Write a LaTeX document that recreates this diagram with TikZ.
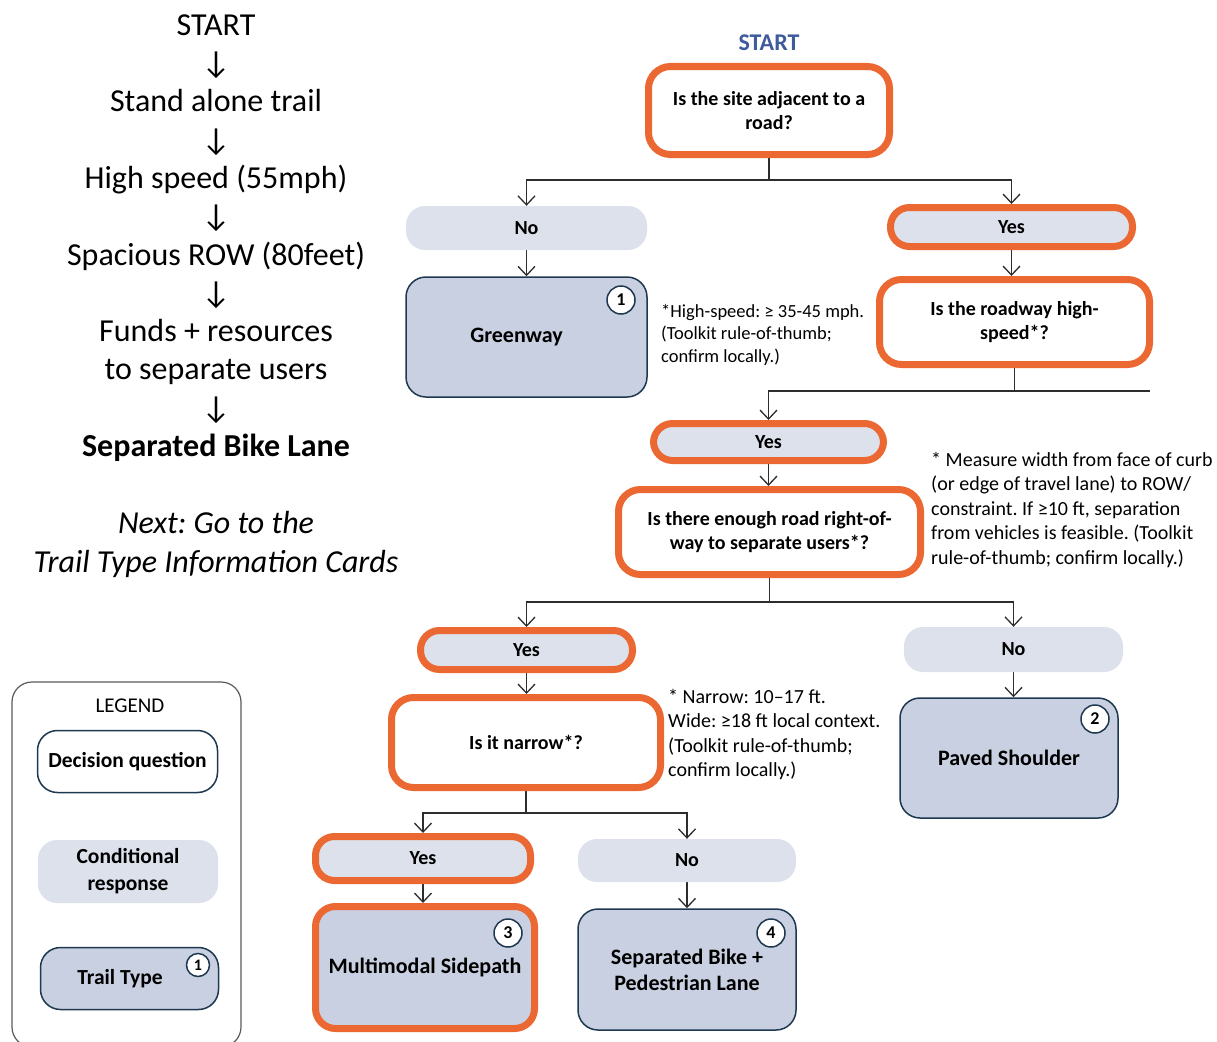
\documentclass[tikz,border=0pt]{standalone}
\usepackage{fontspec}
\setmainfont{Carlito}
\usetikzlibrary{arrows.meta,positioning,backgrounds}
\definecolor{flagorange}{RGB}{236,104,50}
\definecolor{responsecol}{RGB}{220,225,236}
\definecolor{trailcol}{RGB}{201,208,225}
\definecolor{edgecol}{RGB}{30,56,80}
\definecolor{startcol}{RGB}{62,91,155}
\definecolor{linkcol}{RGB}{45,45,45}
\newcommand{\fs}[2]{\fontsize{#1}{#2}\selectfont}
\newcommand{\dn}{{\fs{32}{32}↓}}
\frenchspacing

\begin{document}
\begin{tikzpicture}[x=1pt, y=-1pt,
    question/.style={draw=flagorange, line width=7pt, fill=white, rounded corners=22pt, align=center, font=\fs{20}{24}\bfseries, inner sep=0pt},
    answer/.style={fill=responsecol, rounded corners=19pt, align=center, font=\fs{20}{24}\bfseries, inner sep=0pt},
    picked/.style={answer, draw=flagorange, line width=7pt},
    trail/.style={draw=edgecol, line width=1.5pt, fill=trailcol, rounded corners=20pt, align=center, font=\fs{22}{26}\bfseries, inner sep=0pt},
    badge/.style={circle, draw=edgecol, line width=1.5pt, fill=white, minimum size=28pt, inner sep=0pt, font=\fs{18}{18}\bfseries},
    note/.style={anchor=west, align=left, inner sep=0pt},
    link/.style={draw=linkcol, line width=1.3pt},
    arr/.style={link, -{Straight Barb[length=9pt,width=17pt]}},
]
\useasboundingbox (0,0) rectangle (1217,1041);
\clip (0,0) rectangle (1217,1041);

\node[align=center, font=\fs{32}{38.3}] (chain) at (216,238)
  {START\\\dn\\Stand alone trail\\\dn\\High speed (55mph)\\\dn\\Spacious ROW (80feet)\\\dn\\Funds + resources\\to separate users\\\dn\\\textbf{Separated Bike Lane}};
\node[align=center, font=\fs{32}{39}\itshape] (nextcard) at (216,544) {Next: Go to the\\Trail Type Information Cards};

\node[font=\fs{24}{24}\bfseries, text=startcol] (start) at (769,43) {START};
\node[question, minimum width=241pt, minimum height=88pt] (site) at (769,110.5) {Is the site adjacent to a\\road?};
\node[answer, minimum width=241pt, minimum height=44pt] (siteno) at (526.5,228) {No};
\node[picked, minimum width=242pt, minimum height=39pt] (siteyes) at (1011.5,227) {Yes};
\node[trail, minimum width=241pt, minimum height=120pt] (greenway) at (526.5,337) {Greenway\hspace*{20pt}};
\node[badge] (b1) at (621,300) {1};
\node[question, minimum width=270pt, minimum height=85pt] (speed) at (1014.5,322) {Is the roadway high-\\speed*?};
\node[note, font=\fs{18.5}{22.5}] (speednote) at (661,334.5) {*High-speed: ≥ 35-45 mph.\\(Toolkit rule-of-thumb;\\confirm locally.)};
\node[picked, minimum width=230pt, minimum height=37pt] (speedyes) at (768.5,442) {Yes};
\node[question, minimum width=302pt, minimum height=85pt] (row) at (769.5,532) {Is there enough road right-of-\\way to separate users*?};
\node[note, font=\fs{20}{24.5}] (rownote) at (931,510) {* Measure width from face of curb\\(or edge of travel lane) to ROW/\\constraint. If ≥10 ft, separation\\from vehicles is feasible. (Toolkit\\rule-of-thumb; confirm locally.)};
\node[picked, minimum width=212pt, minimum height=39pt] (rowyes) at (526.5,650) {Yes};
\node[answer, minimum width=219pt, minimum height=45pt] (rowno) at (1013.5,649.5) {No};
\node[question, minimum width=269pt, minimum height=90pt] (narrow) at (526,742.5) {Is it narrow*?};
\node[note, font=\fs{20}{24.3}] (narrownote) at (668,734.5) {* Narrow: 10–17 ft.\\Wide: ≥18 ft local context.\\(Toolkit rule-of-thumb;\\confirm locally.)};
\node[trail, minimum width=218pt, minimum height=120pt] (shoulder) at (1009,758) {Paved Shoulder};
\node[badge] (b2) at (1095,719) {2};
\node[picked, minimum width=215pt, minimum height=44pt] (narrowyes) at (423,858.5) {Yes};
\node[answer, minimum width=218pt, minimum height=43pt] (narrowno) at (687,860.5) {No};
\node[trail, draw=flagorange, line width=7pt, minimum width=219pt, minimum height=122pt] (sidepath) at (425,967.5) {Multimodal Sidepath};
\node[badge] (b3) at (508,933) {3};
\node[trail, minimum width=218pt, minimum height=121pt] (sepbike) at (687,969.5) {Separated Bike +\\Pedestrian Lane};
\node[badge] (b4) at (771,933) {4};

\node[draw=black!65, line width=1.2pt, rounded corners=20pt, minimum width=229pt, minimum height=365pt] (legend) at (126.5,864.5) {};
\node[font=\fs{21}{21}] (legendtitle) at (130,706) {LEGEND};
\node[draw=edgecol, line width=1.5pt, fill=white, rounded corners=20pt, minimum width=180pt, minimum height=62pt, font=\fs{21.5}{26}\bfseries] (legquestion) at (127.5,761.5) {Decision question};
\node[answer, minimum width=180pt, minimum height=63pt, font=\fs{21.5}{27}\bfseries] (legresponse) at (128,871.5) {Conditional\\response};
\node[trail, minimum width=178pt, minimum height=62pt, font=\fs{21.5}{26}\bfseries] (legtrail) at (129.5,978.5) {Trail Type\hspace*{19pt}};
\node[badge, minimum size=23pt, font=\fs{16}{16}\bfseries] (legbadge) at (198,965) {1};

\begin{scope}[on background layer]
\coordinate (cutoff) at (1150,391);
\draw[arr] (site.south) -- ++(0,22) -| (siteno.north);
\draw[arr] (site.south) -- ++(0,22) -| (siteyes.north);
\draw[arr] (siteno.south) -- (siteno.south |- greenway.north);
\draw[arr] (siteyes.south) -- (siteyes.south |- speed.north);
\draw[arr] (speed.south) -- ++(0,23) -| (speedyes.north);
\draw[link] (speed.south) ++(0,23) -- (cutoff);
\draw[arr] (speedyes.south) -- (speedyes.south |- row.north);
\draw[arr] (row.south) -- ++(0,24) -| (rowyes.north);
\draw[arr] (row.south) -- ++(0,24) -| (rowno.north);
\draw[arr] (rowyes.south) -- (rowyes.south |- narrow.north);
\draw[arr] (rowno.south) -- (rowno.south |- shoulder.north);
\draw[arr] (narrow.south) -- ++(0,22) -| (narrowyes.north);
\draw[arr] (narrow.south) -- ++(0,22) -| (narrowno.north);
\draw[arr] (narrowyes.south) -- (narrowyes.south |- sidepath.north);
\draw[arr] (narrowno.south) -- (narrowno.south |- sepbike.north);
\end{scope}
\end{tikzpicture}
\end{document}
